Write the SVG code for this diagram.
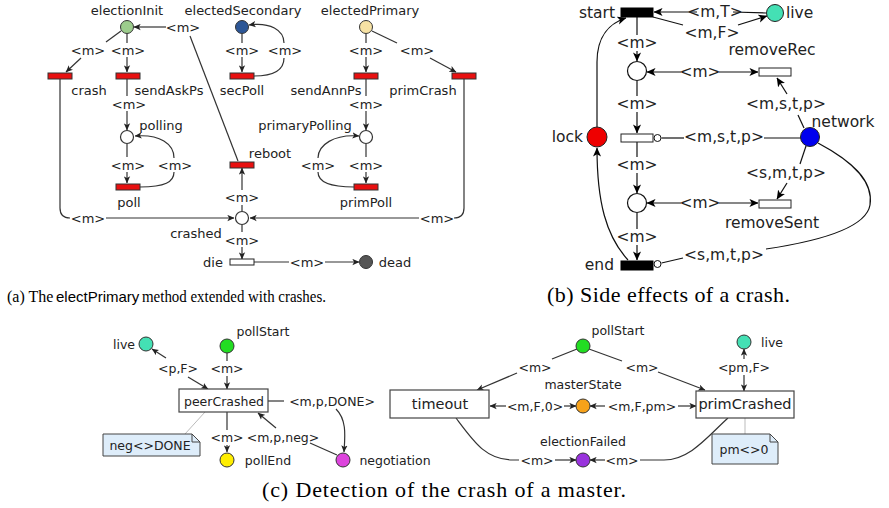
<svg xmlns="http://www.w3.org/2000/svg" width="889" height="508" viewBox="0 0 889 508">
<style>
.t{font-family:"DejaVu Sans","Verdana",sans-serif;fill:#222;text-anchor:middle;dominant-baseline:central}
.fa{font-size:13px}
.fb{font-size:15.5px}
.fc{font-size:12.5px}
.fd{font-size:14.5px}
.l{stroke:#333;stroke-width:1.2;fill:none}
.lg{stroke:#bbb;stroke-width:1;fill:none}
.tr{fill:#e81010;stroke:#333;stroke-width:1}
.tw{fill:#fff;stroke:#222;stroke-width:1}
.tb{fill:#000;stroke:#000;stroke-width:1}
.pl{fill:#fff;stroke:#333;stroke-width:1.2}
.box{fill:#fff;stroke:#444;stroke-width:1.2}
.note{fill:#deedfa;stroke:#444;stroke-width:1}
.cap{font-family:"Liberation Serif","Times New Roman",serif;fill:#000}
.caps{font-family:"Liberation Sans",Arial,sans-serif;fill:#000}
</style>
<defs>
<marker id="ar" viewBox="0 0 10 10" refX="9.5" refY="5" markerWidth="7" markerHeight="7" markerUnits="userSpaceOnUse" orient="auto"><path d="M0,0.5 L10,5 L0,9.5 L2.5,5z" fill="#222"/></marker>
<marker id="arb" viewBox="0 0 10 10" refX="9.5" refY="5" markerWidth="9" markerHeight="9" markerUnits="userSpaceOnUse" orient="auto"><path d="M0,0.5 L10,5 L0,9.5 L2.5,5z" fill="#000"/></marker>
</defs>

<!-- connectors -->
<g id="connectors">
<!-- panel a -->
<g class="l">
<line x1="166" y1="27" x2="134" y2="27" marker-end="url(#ar)"/>
<line x1="190" y1="36" x2="238" y2="161"/>
<line x1="121" y1="31" x2="106" y2="42"/>
<line x1="81" y1="58" x2="66" y2="72" marker-end="url(#ar)"/>
<line x1="127" y1="34" x2="127" y2="43"/>
<line x1="127" y1="57" x2="127" y2="72" marker-end="url(#ar)"/>
<line x1="127" y1="79" x2="127" y2="96"/>
<line x1="127" y1="111" x2="127" y2="130" marker-end="url(#ar)"/>
<line x1="127" y1="144" x2="127" y2="157"/>
<line x1="127" y1="172" x2="127" y2="183" marker-end="url(#ar)"/>
<path d="M140,187 C165,187 174,182 174,172"/>
<path d="M174,158 C174,144 160,134 135,136" marker-end="url(#ar)"/>
<path d="M60,79 L60,208 Q60,218 70,218"/>
<line x1="106" y1="218" x2="234" y2="218" marker-end="url(#ar)"/>
<path d="M464,79 L464,208 Q464,218 454,218"/>
<line x1="419" y1="218" x2="250" y2="218" marker-end="url(#ar)"/>
<line x1="242" y1="211" x2="242" y2="205"/>
<line x1="242" y1="190" x2="242" y2="168" marker-end="url(#ar)"/>
<line x1="242" y1="225" x2="242" y2="232"/>
<line x1="242" y1="247" x2="242" y2="259" marker-end="url(#ar)"/>
<line x1="254" y1="262" x2="289" y2="262"/>
<line x1="325" y1="262" x2="359" y2="262" marker-end="url(#ar)"/>
<line x1="242" y1="34" x2="242" y2="43"/>
<line x1="242" y1="57" x2="242" y2="72" marker-end="url(#ar)"/>
<path d="M254,76 C278,76 284,68 284,58"/>
<path d="M284,43 C284,30 270,22 249,25" marker-end="url(#ar)"/>
<line x1="366" y1="34" x2="366" y2="43"/>
<line x1="366" y1="57" x2="366" y2="72" marker-end="url(#ar)"/>
<line x1="372" y1="31" x2="397" y2="43"/>
<line x1="430" y1="58" x2="456" y2="72" marker-end="url(#ar)"/>
<line x1="366" y1="79" x2="366" y2="96"/>
<line x1="366" y1="111" x2="366" y2="130" marker-end="url(#ar)"/>
<line x1="366" y1="144" x2="366" y2="157"/>
<line x1="366" y1="172" x2="366" y2="183" marker-end="url(#ar)"/>
<path d="M354,187 C328,187 318,181 318,172"/>
<path d="M318,158 C318,145 334,134 359,136" marker-end="url(#ar)"/>
</g>
<!-- panel b -->
<g class="l" style="stroke:#111">
<line x1="697" y1="12" x2="654" y2="12" marker-end="url(#arb)"/>
<line x1="733" y1="12" x2="766" y2="13"/>
<line x1="653" y1="17" x2="683" y2="25"/>
<line x1="738" y1="25" x2="767" y2="16" marker-end="url(#arb)"/>
<line x1="637" y1="17" x2="637" y2="35"/>
<line x1="637" y1="51" x2="637" y2="61" marker-end="url(#arb)"/>
<line x1="681" y1="72" x2="647" y2="72" marker-end="url(#arb)"/>
<line x1="719" y1="72" x2="758" y2="72" marker-end="url(#arb)"/>
<line x1="804" y1="128" x2="798" y2="115"/>
<line x1="787" y1="94" x2="777" y2="78" marker-end="url(#arb)"/>
<line x1="637" y1="81" x2="637" y2="96"/>
<line x1="637" y1="112" x2="637" y2="133" marker-end="url(#arb)"/>
<line x1="661.5" y1="138" x2="684" y2="138"/>
<line x1="764" y1="138" x2="801" y2="138"/>
<path d="M597,127 L597,62 C597,36 610,23 626,18" marker-end="url(#arb)"/>
<path d="M628,260 C606,236 597,202 597,148" marker-end="url(#arb)"/>
<line x1="637" y1="142" x2="637" y2="157"/>
<line x1="637" y1="173" x2="637" y2="193" marker-end="url(#arb)"/>
<line x1="681" y1="203" x2="647" y2="203" marker-end="url(#arb)"/>
<line x1="719" y1="203" x2="758" y2="203" marker-end="url(#arb)"/>
<line x1="806" y1="146" x2="800" y2="164"/>
<line x1="787" y1="183" x2="777" y2="199" marker-end="url(#arb)"/>
<line x1="637" y1="213" x2="637" y2="229"/>
<line x1="637" y1="245" x2="637" y2="260" marker-end="url(#arb)"/>
<line x1="661.5" y1="263" x2="683" y2="258"/>
<path d="M766,249 C820,241 866,228 870,205 C874,180 850,160 818,143"/>
</g>
<!-- panel c -->
<g class="l">
<line x1="166" y1="358" x2="152" y2="349" marker-end="url(#ar)"/>
<line x1="188" y1="377" x2="208" y2="389" marker-end="url(#ar)"/>
<line x1="227" y1="353" x2="227" y2="361"/>
<line x1="227" y1="376" x2="227" y2="389" marker-end="url(#ar)"/>
<line x1="268" y1="401" x2="284" y2="401"/>
<path d="M336,409 C347,420 345,436 344,452" marker-end="url(#ar)"/>
<line x1="227" y1="412" x2="227" y2="430"/>
<line x1="227" y1="445" x2="227" y2="452" marker-end="url(#ar)"/>
<line x1="337" y1="455" x2="310" y2="443"/>
<line x1="276" y1="428" x2="258" y2="413" marker-end="url(#ar)"/>
<line x1="577" y1="349" x2="552" y2="359"/>
<line x1="517" y1="373" x2="477" y2="390" marker-end="url(#ar)"/>
<line x1="506" y1="406" x2="490" y2="406" marker-end="url(#ar)"/>
<line x1="564" y1="406" x2="576" y2="406" marker-end="url(#ar)"/>
<line x1="605" y1="406" x2="590" y2="406" marker-end="url(#ar)"/>
<line x1="678" y1="406" x2="696" y2="406" marker-end="url(#ar)"/>
<line x1="589" y1="349" x2="622" y2="361"/>
<line x1="658" y1="372" x2="705" y2="390" marker-end="url(#ar)"/>
<line x1="744" y1="359" x2="744" y2="349" marker-end="url(#ar)"/>
<line x1="744" y1="375" x2="744" y2="391" marker-end="url(#ar)"/>
<path d="M456,418 C474,442 486,460 513,460 L519,460"/>
<line x1="555" y1="460" x2="576" y2="460" marker-end="url(#ar)"/>
<line x1="605" y1="460" x2="590" y2="460" marker-end="url(#ar)"/>
<path d="M640,460 L664,460 C690,460 708,436 728,418"/>
</g>
<g class="lg">
<line x1="185" y1="434" x2="205" y2="412"/>
<line x1="745" y1="418" x2="745" y2="434"/>
</g>
</g>

<!-- arc labels -->
<g id="arc-labels" class="t">
<g class="fa">
<text x="183" y="27">&lt;m&gt;</text>
<text x="88" y="50">&lt;m&gt;</text>
<text x="128" y="50">&lt;m&gt;</text>
<text x="129" y="104">&lt;m&gt;</text>
<text x="128" y="165">&lt;m&gt;</text>
<text x="175" y="165">&lt;m&gt;</text>
<text x="88" y="218">&lt;m&gt;</text>
<text x="437" y="218">&lt;m&gt;</text>
<text x="242" y="197">&lt;m&gt;</text>
<text x="242" y="240">&lt;m&gt;</text>
<text x="307" y="262">&lt;m&gt;</text>
<text x="242" y="50">&lt;m&gt;</text>
<text x="285" y="50">&lt;m&gt;</text>
<text x="366" y="50">&lt;m&gt;</text>
<text x="417" y="50">&lt;m&gt;</text>
<text x="366" y="104">&lt;m&gt;</text>
<text x="366" y="165">&lt;m&gt;</text>
<text x="318" y="165">&lt;m&gt;</text>
</g>
<g class="fb">
<text x="715" y="12">&lt;m,T&gt;</text>
<text x="712" y="33">&lt;m,F&gt;</text>
<text x="637" y="43">&lt;m&gt;</text>
<text x="700" y="72">&lt;m&gt;</text>
<text x="786" y="104">&lt;m,s,t,p&gt;</text>
<text x="637" y="104">&lt;m&gt;</text>
<text x="724" y="137">&lt;m,s,t,p&gt;</text>
<text x="637" y="165">&lt;m&gt;</text>
<text x="700" y="203">&lt;m&gt;</text>
<text x="786" y="173">&lt;s,m,t,p&gt;</text>
<text x="637" y="237">&lt;m&gt;</text>
<text x="724" y="255">&lt;s,m,t,p&gt;</text>
</g>
<g class="fc">
<text x="178" y="368">&lt;p,F&gt;</text>
<text x="227" y="368">&lt;m&gt;</text>
<text x="332" y="401">&lt;m,p,DONE&gt;</text>
<text x="227" y="437">&lt;m&gt;</text>
<text x="283" y="437">&lt;m,p,neg&gt;</text>
<text x="535" y="367">&lt;m&gt;</text>
<text x="535" y="406">&lt;m,F,0&gt;</text>
<text x="642" y="406">&lt;m,F,pm&gt;</text>
<text x="642" y="367">&lt;m&gt;</text>
<text x="744" y="367">&lt;pm,F&gt;</text>
<text x="537" y="460">&lt;m&gt;</text>
<text x="622" y="460">&lt;m&gt;</text>
</g>
</g>

<!-- panel a nodes -->
<g id="electionInit"><circle cx="127" cy="27" r="6.5" fill="#9ccc8c" stroke="#333"/><text class="t fa" x="127" y="10">electionInit</text></g>
<g id="electedSecondary"><circle cx="242" cy="27" r="6.5" fill="#2c5696" stroke="#333"/><text class="t fa" x="243" y="10">electedSecondary</text></g>
<g id="electedPrimary"><circle cx="366" cy="27" r="6.5" fill="#f7e2a4" stroke="#333"/><text class="t fa" x="370" y="10">electedPrimary</text></g>
<g id="crash"><rect class="tr" x="48" y="73" width="24" height="6"/><text class="t fa" x="89" y="90">crash</text></g>
<g id="sendAskPs"><rect class="tr" x="116" y="73" width="24" height="6"/><text class="t fa" x="169" y="90">sendAskPs</text></g>
<g id="secPoll"><rect class="tr" x="230" y="73" width="24" height="6"/><text class="t fa" x="242" y="90">secPoll</text></g>
<g id="sendAnnPs"><rect class="tr" x="354" y="73" width="24" height="6"/><text class="t fa" x="326" y="90">sendAnnPs</text></g>
<g id="primCrash"><rect class="tr" x="452" y="73" width="24" height="6"/><text class="t fa" x="423" y="90">primCrash</text></g>
<g id="polling"><circle class="pl" cx="127" cy="137" r="6.5"/><text class="t fa" x="161" y="125">polling</text></g>
<g id="primaryPolling"><circle class="pl" cx="366" cy="137" r="6.5"/><text class="t fa" x="305" y="125">primaryPolling</text></g>
<g id="poll"><rect class="tr" x="116" y="184" width="24" height="6"/><text class="t fa" x="129" y="202">poll</text></g>
<g id="primPoll"><rect class="tr" x="354" y="184" width="24" height="6"/><text class="t fa" x="366" y="202">primPoll</text></g>
<g id="reboot"><rect class="tr" x="230" y="162" width="24" height="6"/><text class="t fa" x="270" y="153">reboot</text></g>
<g id="crashed"><circle class="pl" cx="242" cy="218" r="6.5"/><text class="t fa" x="196" y="233">crashed</text></g>
<g id="die"><rect class="tw" x="230" y="259" width="24" height="6"/><text class="t fa" x="213" y="262">die</text></g>
<g id="dead"><circle cx="366" cy="262" r="6.5" fill="#555" stroke="#333"/><text class="t fa" x="395" y="262">dead</text></g>

<!-- panel b nodes -->
<g id="start"><rect class="tb" x="621" y="8" width="32" height="9"/><text class="t fb" x="615" y="13" style="text-anchor:end">start</text></g>
<g id="live-b"><circle cx="775" cy="13" r="8.5" fill="#44e0b4" stroke="#222"/><text class="t fb" x="786" y="13" style="text-anchor:start">live</text></g>
<g id="place1"><circle class="pl" cx="637" cy="71" r="9.5" style="stroke:#111"/></g>
<g id="removeRec"><rect class="tw" x="759" y="68" width="32" height="8"/><text class="t fb" x="772" y="50">removeRec</text></g>
<g id="network"><circle cx="810" cy="137" r="9.5" fill="#0000ee" stroke="#222"/><text class="t fb" x="843" y="122">network</text></g>
<g id="lock"><circle cx="597" cy="137" r="10" fill="#ee0000" stroke="#222"/><text class="t fb" x="583" y="137" style="text-anchor:end">lock</text></g>
<g id="middle"><rect class="tw" x="621" y="134" width="32" height="8"/><circle cx="657.5" cy="138" r="3.5" fill="#fff" stroke="#111"/></g>
<g id="place2"><circle class="pl" cx="637" cy="203" r="9.5" style="stroke:#111"/></g>
<g id="removeSent"><rect class="tw" x="759" y="200" width="32" height="8"/><text class="t fb" x="772" y="223">removeSent</text></g>
<g id="end"><rect class="tb" x="621" y="261" width="32" height="9"/><circle cx="657.5" cy="264" r="3.5" fill="#fff" stroke="#111"/><text class="t fb" x="614" y="265" style="text-anchor:end">end</text></g>

<!-- panel c nodes -->
<g id="pollStart-c1"><circle cx="227" cy="346" r="7" fill="#22dd22" stroke="#333"/><text class="t fc" x="263" y="331">pollStart</text></g>
<g id="live-c1"><circle cx="146" cy="344" r="7" fill="#44e0b4" stroke="#333"/><text class="t fc" x="135" y="344" style="text-anchor:end">live</text></g>
<g id="peerCrashed"><rect class="box" x="179" y="389" width="89" height="23"/><text class="t fc" x="224" y="401">peerCrashed</text></g>
<g id="pollEnd"><circle cx="227" cy="460" r="7" fill="#ffee00" stroke="#333"/><text class="t fc" x="268" y="460">pollEnd</text></g>
<g id="negotiation"><circle cx="343" cy="460" r="7" fill="#dd44dd" stroke="#333"/><text class="t fc" x="395" y="460">negotiation</text></g>
<g id="note-neg"><path class="note" d="M103,434 L192,434 L200,442 L200,456 L103,456 Z"/><path d="M192,434 L192,442 L200,442" fill="none" stroke="#444"/><text class="t fc" x="150" y="445">neg&lt;&gt;DONE</text></g>
<g id="pollStart-c2"><circle cx="583" cy="346" r="7" fill="#22dd22" stroke="#333"/><text class="t fc" x="618" y="330">pollStart</text></g>
<g id="timeout"><rect class="box" x="390" y="390" width="99" height="28"/><text class="t fd" x="440" y="404">timeout</text></g>
<g id="masterState"><circle cx="583" cy="406" r="7" fill="#f7a21a" stroke="#333"/><text class="t fc" x="583" y="384">masterState</text></g>
<g id="primCrashed"><rect class="box" x="696" y="391" width="98" height="27"/><text class="t fd" x="745" y="404">primCrashed</text></g>
<g id="live-c2"><circle cx="744" cy="342" r="7" fill="#44e0b4" stroke="#333"/><text class="t fc" x="761" y="342" style="text-anchor:start">live</text></g>
<g id="note-pm"><path class="note" d="M712,434 L770,434 L778,442 L778,464 L712,464 Z"/><path d="M770,434 L770,442 L778,442" fill="none" stroke="#444"/><text class="t fc" x="744" y="449">pm&lt;&gt;0</text></g>
<g id="electionFailed"><circle cx="583" cy="460" r="7" fill="#9933dd" stroke="#333"/><text class="t fc" x="583" y="441">electionFailed</text></g>

<!-- captions -->
<g id="captions">
<text class="cap" x="7" y="302" font-size="16">(a) The</text>
<text class="caps" x="56" y="302" font-size="15">electPrimary</text>
<text class="cap" x="142" y="302" font-size="16" textLength="184" lengthAdjust="spacingAndGlyphs">method extended with crashes.</text>
<text class="cap" x="547" y="302" font-size="22" textLength="243">(b) Side effects of a crash.</text>
<text class="cap" x="262" y="497" font-size="22" textLength="364">(c) Detection of the crash of a master.</text>
</g>
</svg>
